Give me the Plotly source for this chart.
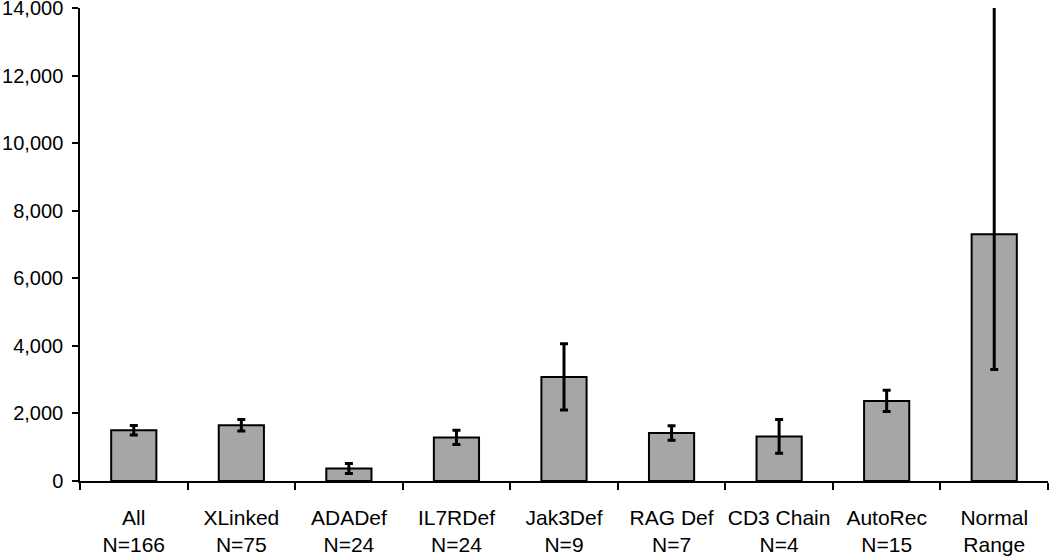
import plotly.graph_objects as go

categories = ["All", "XLinked", "ADADef", "IL7RDef", "Jak3Def", "RAG Def", "CD3 Chain", "AutoRec", "Normal"]
second_line = ["N=166", "N=75", "N=24", "N=24", "N=9", "N=7", "N=4", "N=15", "Range"]
values = [1500, 1650, 370, 1290, 3080, 1420, 1320, 2370, 7300]
err_plus = [140, 170, 150, 210, 980, 215, 500, 315, 7700]
err_minus = [140, 170, 150, 210, 980, 215, 500, 315, 4000]
y_ticks = [0, 2000, 4000, 6000, 8000, 10000, 12000, 14000]

ticktext = [f"{a}<br>{b}" for a, b in zip(categories, second_line)]

fig = go.Figure()
fig.add_trace(go.Bar(
    x=categories,
    y=values,
    width=0.42,
    marker=dict(color="#a6a6a6", line=dict(color="black", width=2)),
    error_y=dict(type="data", symmetric=False, array=err_plus, arrayminus=err_minus,
                 color="black", thickness=3, width=4),
    showlegend=False,
))

yfont = dict(family="Liberation Sans, Arial, sans-serif", size=20, color="black")
xfont = dict(family="Liberation Sans, Arial, sans-serif", size=21, color="black")

fig.update_layout(
    width=1050, height=557,
    margin=dict(l=80, r=2, t=8, b=76, autoexpand=False),
    paper_bgcolor="white", plot_bgcolor="white",
    font=yfont,
    xaxis=dict(
        tickmode="array", tickvals=categories, ticktext=ticktext, tickangle=0,
        tickson="boundaries", ticks="outside", ticklen=7, tickwidth=1.5, tickcolor="black",
        showline=True, linecolor="black", linewidth=1.5,
        showgrid=False, zeroline=False, ticklabelstandoff=17,
        tickfont=xfont, automargin=False, ticklabeloverflow="allow",
    ),
    yaxis=dict(
        range=[0, 14000], tickmode="array", tickvals=y_ticks,
        tickformat=",", ticks="outside", ticklen=6, tickwidth=1.5, tickcolor="black",
        showline=True, linecolor="black", linewidth=1.5,
        showgrid=False, zeroline=False, ticklabelstandoff=5,
        tickfont=yfont, automargin=False, ticklabeloverflow="allow",
    ),
)

fig.write_html("out.html", config={"displayModeBar": False},
               post_script="document.body.style.margin='0';")
